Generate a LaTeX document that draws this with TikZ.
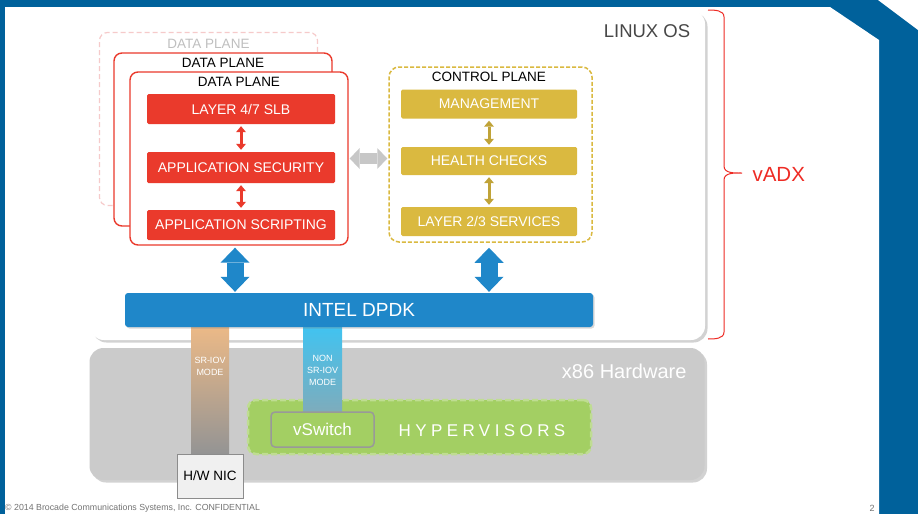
\documentclass[tikz,border=0pt]{standalone}
\usepackage{fontspec}
\setmainfont{Liberation Sans}
\usepackage{tikz}
\usetikzlibrary{positioning}
\usetikzlibrary{arrows.meta}
\usetikzlibrary{shadows}
\usetikzlibrary{calc}

\definecolor{bandblue}{HTML}{00619B}
\definecolor{dpred}{HTML}{EA3A2C}
\definecolor{cpyellow}{HTML}{DAB940}
\definecolor{dpdkblue}{HTML}{1F87C9}
\definecolor{hwgray}{HTML}{CBCBCB}
\definecolor{hvgreen}{HTML}{A3CF63}
\definecolor{srorange}{HTML}{EBB987}
\definecolor{nscyan}{HTML}{41C3F0}
\definecolor{ghost}{HTML}{F6CACA}
\definecolor{vadxred}{HTML}{EE2B24}

\pgfdeclarelayer{back}
\pgfdeclarelayer{strips}
\pgfsetlayers{back,strips,main}
\newcommand{\fsz}[1]{\fontsize{#1}{#1}\selectfont}

\begin{document}
\begin{tikzpicture}[x=1pt,y=-1pt]
    \tikzstyle{panel}=[rounded corners=14pt, minimum width=615pt, drop shadow={shadow xshift=2.5pt,shadow yshift=-2.5pt,fill=black!50,opacity=0.35}]
    \tikzstyle{plane}=[draw=dpred, line width=1.4pt, fill=white, rounded corners=8pt, minimum width=218pt, minimum height=173pt]
    \tikzstyle{planelbl}=[font=\fsz{13.5}, inner sep=0pt]
    \tikzstyle{redbox}=[fill=dpred, rounded corners=1.5pt, minimum width=188pt, minimum height=30pt, text=white, font=\fsz{14}]
    \tikzstyle{yelbox}=[fill=cpyellow, rounded corners=1.5pt, minimum width=176pt, minimum height=29pt, text=white, font=\fsz{14}]
    \tikzstyle{bigarrow}=[draw=dpdkblue, line width=17pt, {Triangle[width=29pt,length=15pt,line width=0pt]}-{Triangle[width=29pt,length=15pt,line width=0pt]}]
    \tikzstyle{midarrow}=[draw=black!22, line width=11pt, {Triangle[width=21pt,length=10pt,line width=0pt]}-{Triangle[width=21pt,length=10pt,line width=0pt]}]
    \tikzstyle{smallarrow}=[line width=3pt, shorten <=2pt, shorten >=2pt, {Triangle[width=10pt,length=6pt,line width=0pt]}-{Triangle[width=10pt,length=6pt,line width=0pt]}]
    \tikzstyle{striptext}=[text=white, align=center, font=\fontsize{9}{12}\selectfont, inner sep=0pt]
    \useasboundingbox (0,0) rectangle (918,514);

    \begin{pgfonlayer}{back}
        \fill[bandblue] (0,0) rectangle (918,514);
        \fill[white] (5,7) -- (830,7) -- (879,40) -- (879,514) -- (5,514) -- cycle;
        \fill[white] (878,0) -- (918,0) -- (918,30) -- cycle;
        \node[panel, fill=white, minimum height=330pt] (linux) at (397.5,175) {};
        \node[panel, fill=hwgray, minimum height=132pt] (hw) at (397,414) {};
        \node[fill=hvgreen, draw=hvgreen!70!white, dash pattern=on 6pt off 3pt, line width=2.5pt, rounded corners=8pt, minimum width=343pt, minimum height=54pt] (hyper) at (419.5,427) {};
    \end{pgfonlayer}

    \node[font=\fsz{18.5}, text=black!72] (linuxlbl) at (647,31) {LINUX OS};
    \node[font=\fsz{20}, text=white, anchor=east] (hwlbl) at (690,371) {x86 Hardware};

    % data planes, back to front
    \node[plane, draw=ghost, dash pattern=on 5pt off 3pt, line width=1.2pt] (dp3) at (208.5,119) {};
    \node[planelbl, text=black!25] (dp3lbl) at (208.5,44) {DATA PLANE};
    \node[plane] (dp2) at (223,139.5) {};
    \node[planelbl] (dp2lbl) at (223,63) {DATA PLANE};
    \node[plane] (dp1) at (239,158.5) {};
    \node[planelbl] (dp1lbl) at (239,82) {DATA PLANE};
    \node[redbox] (slb) at (241,109) {LAYER 4/7 SLB};
    \node[redbox, minimum height=31pt] (sec) at (241,167.5) {APPLICATION SECURITY};
    \node[redbox] (scr) at (241,225) {APPLICATION SCRIPTING};

    % control plane
    \node[draw=cpyellow, dash pattern=on 4pt off 2pt, line width=1.5pt, rounded corners=10pt, minimum width=203pt, minimum height=175pt] (ctrl) at (490.5,154.5) {};
    \node[planelbl] (ctrllbl) at (489,77) {CONTROL PLANE};
    \node[yelbox] (mgmt) at (489,104) {MANAGEMENT};
    \node[yelbox, minimum height=28pt] (hc) at (489,161) {HEALTH CHECKS};
    \node[yelbox] (l23) at (489,221.5) {LAYER 2/3 SERVICES};

    \node[fill=dpdkblue, rounded corners=3pt, minimum width=468pt, minimum height=34pt, text=white, font=\fsz{19}, drop shadow={shadow xshift=1.5pt,shadow yshift=-1.5pt,fill=black!50,opacity=0.3}] (dpdk) at (359,310) {INTEL DPDK};

    \node[draw=black!45, line width=1pt, fill=black!6, minimum width=66pt, minimum height=44pt, font=\fsz{13.5}] (nic) at (210,476) {H/W NIC};
    \node[draw=black!40, line width=1.5pt, fill=hvgreen, rounded corners=4pt, minimum width=103pt, minimum height=35pt, text=white, font=\fsz{17}] (vsw) at (322.5,429.5) {vSwitch};
    \node[text=white, font={\fsz{17}\addfontfeatures{LetterSpace=26}}] (hvlbl) at (482,431) {HYPERVISORS};

    \begin{pgfonlayer}{strips}
        \shade[top color=srorange, bottom color=black!42] ($(nic.north |- dpdk.south)+(-19,0)$) rectangle ($(nic.north)+(19,0)$);
        \shade[top color=nscyan, bottom color=black!40!nscyan!60!white] ($(vsw.north |- dpdk.south)+(-19.5,0)$) rectangle ($(vsw.north)+(19.5,0)$);
    \end{pgfonlayer}
    \node[striptext] (srlbl) at (210,366) {SR-IOV\\MODE};
    \node[striptext] (nslbl) at (322.5,370) {NON\\SR-IOV\\MODE};

    % arrows
    \draw[smallarrow, dpred] (slb) -- (sec);
    \draw[smallarrow, dpred] (sec) -- (scr);
    \draw[smallarrow, cpyellow!88!black] (mgmt) -- (hc);
    \draw[smallarrow, cpyellow!88!black] (hc) -- (l23);
    \draw[midarrow, shorten <=1pt, shorten >=1pt] (dp1.east) -- (dp1.east -| ctrl.west);
    \draw[bigarrow, shorten <=2pt, shorten >=1pt] ([xshift=-4pt]dp1.south) -- ([xshift=-4pt]dp1.south |- dpdk.north);
    \draw[bigarrow, shorten <=5pt, shorten >=1pt] ([xshift=-1.5pt]ctrl.south) -- ([xshift=-1.5pt]ctrl.south |- dpdk.north);

    % vADX brace
    \draw[vadxred, line width=1pt] (708,10) to[out=0,in=90] (724,17) -- (724,166) to[out=-90,in=180] (742,173) to[out=180,in=90] (724,180) -- (724,332) to[out=-90,in=0] (708,339);
    \node[font=\fsz{20.5}, text=vadxred, anchor=west] (vadx) at (749,174) {vADX};

    \node[anchor=west, font=\fsz{8.8}, text=black!55, inner sep=0pt] (copy) at (5,508) {© 2014 Brocade Communications Systems, Inc. CONFIDENTIAL};
    \node[font=\fsz{9}, text=black!55, inner sep=0pt] (pagenum) at (872,508) {2};
\end{tikzpicture}
\end{document}
